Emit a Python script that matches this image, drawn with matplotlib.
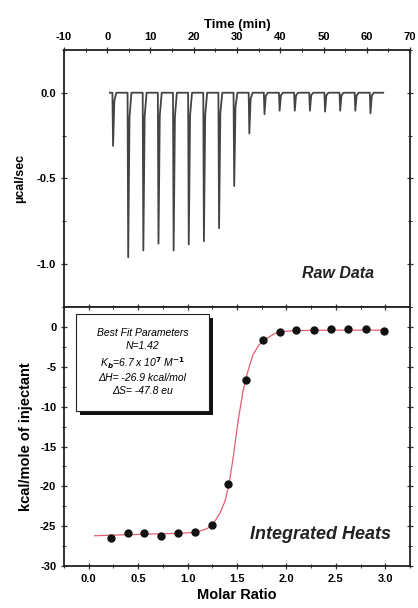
import matplotlib.pyplot as plt
from matplotlib.ticker import MultipleLocator
import numpy as np

plt.rcParams['font.family'] = ['Liberation Sans', 'DejaVu Sans']
plt.rcParams['font.weight'] = 'bold'
plt.rcParams['axes.unicode_minus'] = False

# raw thermogram: injection times (min) and peak heights (ucal/sec)
inj_time = [1.2, 4.7, 8.2, 11.7, 15.2, 18.7, 22.2, 25.7, 29.2,
            32.7, 36.2, 39.7, 43.2, 46.7, 50.2, 53.7, 57.2, 60.7]
peak_height = [-0.31, -0.96, -0.92, -0.88, -0.92, -0.885, -0.866, -0.79, -0.544,
               -0.238, -0.125, -0.105, -0.105, -0.105, -0.11, -0.105, -0.105, -0.12]
run_start, run_end = 0.6, 63.8

# integrated heats
molar_ratio = [0.23, 0.395, 0.562, 0.73, 0.90, 1.075, 1.243, 1.41, 1.587,
               1.76, 1.93, 2.10, 2.278, 2.45, 2.625, 2.804, 2.99]
heat = [-26.5, -25.9, -25.8, -26.2, -25.9, -25.7, -24.9, -19.7, -6.6,
        -1.6, -0.6, -0.4, -0.4, -0.3, -0.3, -0.3, -0.5]

# fitted isotherm
fit_x = [0.06, 0.3, 0.6, 0.9, 1.05, 1.125, 1.2, 1.27, 1.33, 1.38, 1.42, 1.46,
         1.51, 1.56, 1.60, 1.66, 1.72, 1.77, 1.87, 1.93, 2.1, 2.5, 3.0]
fit_y = [-26.2, -26.1, -26.0, -25.9, -25.8, -25.6, -25.3, -24.5, -23.3, -21.8,
         -19.7, -16.5, -11.9, -8.1, -6.0, -3.5, -2.3, -1.7, -0.9, -0.6, -0.45, -0.4, -0.4]

fit_text = ["Best Fit Parameters", "N=1.42", r"K$_b$=6.7 x 10$^7$ M$^{-1}$",
            "\u0394H= -26.9 kcal/mol", "\u0394S= -47.8 eu"]


def thermogram(times, heights):
    xs, ys = [run_start], [0.0]
    for t, h in zip(times, heights):
        xs += [t, t + 0.15, t + 0.45, t + 0.9]
        ys += [0.0, h, h * 0.15, 0.0]
    xs.append(run_end)
    ys.append(0.0)
    return np.array(xs), np.array(ys)


def style_axis(ax):
    for s in ax.spines.values():
        s.set_linewidth(1.3)
        s.set_color('#222222')
    ax.tick_params(which='both', direction='inout', labelsize=8, color='#333333')
    ax.tick_params(which='major', length=5, width=0.9, pad=3)
    ax.tick_params(which='minor', length=3, width=0.7)


fig = plt.figure(figsize=(4.18, 6.08), dpi=100)
ax_top = fig.add_axes([0.153, 0.495, 0.828, 0.423])
ax_bot = fig.add_axes([0.153, 0.069, 0.828, 0.426])

# raw data panel
tx, ty = thermogram(inj_time, peak_height)
ax_top.plot(tx, ty, color='#444444', lw=1.3)
ax_top.set_xlim(-10, 70)
ax_top.set_ylim(-1.25, 0.25)
ax_top.xaxis.set_major_locator(MultipleLocator(10))
ax_top.xaxis.set_minor_locator(MultipleLocator(5))
ax_top.yaxis.set_major_locator(MultipleLocator(0.5))
ax_top.yaxis.set_minor_locator(MultipleLocator(0.25))
ax_top.xaxis.tick_top()
ax_top.xaxis.set_label_position('top')
ax_top.tick_params(axis='y', which='both', right=True)
ax_top.tick_params(axis='x', which='both', bottom=False)
ax_top.set_yticks([0.0, -0.5, -1.0])
ax_top.set_yticklabels(['0.0', '-0.5', '-1.0'])
ax_top.set_xlabel('Time (min)', fontsize=9.5, fontweight='bold', labelpad=3)
ax_top.set_ylabel('\u00b5cal/sec', fontsize=9, fontweight='bold', labelpad=8)
ax_top.text(0.895, 0.13, 'Raw Data', transform=ax_top.transAxes, ha='right',
            va='center', fontsize=11.5, fontweight='bold', style='italic', color='#222222')
style_axis(ax_top)

# integrated heats panel
ax_bot.plot(fit_x, fit_y, color='#e06070', lw=0.9, zorder=2)
ax_bot.plot(molar_ratio, heat, 'o', color='#111111', ms=5, zorder=3)
ax_bot.set_xlim(-0.25, 3.25)
ax_bot.set_ylim(-30, 2.5)
ax_bot.xaxis.set_major_locator(MultipleLocator(0.5))
ax_bot.xaxis.set_minor_locator(MultipleLocator(0.25))
ax_bot.yaxis.set_major_locator(MultipleLocator(5))
ax_bot.yaxis.set_minor_locator(MultipleLocator(2.5))
ax_bot.tick_params(which='both', top=True, right=True)
ax_bot.set_xticks([0.0, 0.5, 1.0, 1.5, 2.0, 2.5, 3.0])
ax_bot.set_xticklabels(['0.0', '0.5', '1.0', '1.5', '2.0', '2.5', '3.0'])
ax_bot.set_xlabel('Molar Ratio', fontsize=10.5, fontweight='bold', labelpad=3)
ax_bot.set_ylabel('kcal/mole of injectant', fontsize=10.5, fontweight='bold', labelpad=5)
ax_bot.text(0.945, 0.12, 'Integrated Heats', transform=ax_bot.transAxes, ha='right',
            va='center', fontsize=13, fontweight='bold', style='italic', color='#222222')
style_axis(ax_bot)

# fit parameter box with drop shadow
box_x, box_y, box_w, box_h = 0.035, 0.60, 0.384, 0.375
ax_bot.add_patch(plt.Rectangle((box_x + 0.012, box_y - 0.016), box_w, box_h,
                               transform=ax_bot.transAxes, facecolor='#111111',
                               edgecolor='none', zorder=4))
ax_bot.add_patch(plt.Rectangle((box_x, box_y), box_w, box_h, transform=ax_bot.transAxes,
                               facecolor='white', edgecolor='#222222', lw=0.8, zorder=5))
ax_bot.text(box_x + box_w / 2, box_y + box_h / 2, '\n'.join(fit_text),
            transform=ax_bot.transAxes, ha='center', va='center', fontsize=7.5,
            style='italic', fontweight='normal', linespacing=1.35, zorder=6)

fig.savefig('out.png', dpi=100)
